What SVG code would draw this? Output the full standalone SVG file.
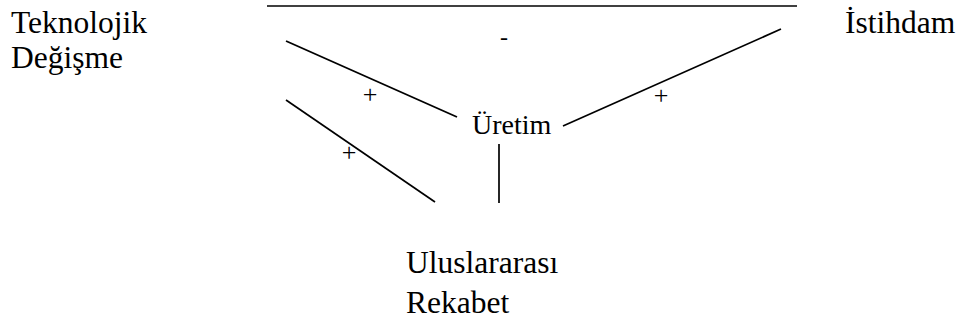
<svg xmlns="http://www.w3.org/2000/svg" width="960" height="322" viewBox="0 0 960 322">
  <style>
    text { font-family: "Liberation Serif", "Times New Roman", serif; fill: #000; }
    .lbl { font-size: 31.5px; }
    .mid { font-size: 28px; }
    .sign { font-size: 26px; text-anchor: middle; }
    .dash { font-size: 24px; text-anchor: middle; }
    .link { stroke: #000; stroke-width: 1.7; fill: none; }
  </style>
  <rect width="960" height="322" fill="#fff"/>

  <!-- connectors between the factors, with their signs -->
  <g id="connectors">
    <line class="link" x1="267" y1="6" x2="797" y2="6"/>
    <line class="link" x1="286" y1="41" x2="457" y2="117"/>
    <line class="link" x1="286" y1="100" x2="435" y2="202"/>
    <line class="link" x1="499" y1="144" x2="499" y2="203"/>
    <line class="link" x1="563" y1="126" x2="781" y2="29"/>
    <text class="dash" x="504" y="45">-</text>
    <text class="sign" x="370" y="103">+</text>
    <text class="sign" x="349" y="161">+</text>
    <text class="sign" x="661" y="104">+</text>
  </g>

  <g id="teknolojik-degisme">
    <text class="lbl" x="11" y="33">Teknolojik</text>
    <text class="lbl" x="11" y="68">Değişme</text>
  </g>

  <g id="istihdam">
    <text class="lbl" x="845" y="33">İstihdam</text>
  </g>

  <g id="uretim">
    <text class="mid" x="472" y="134">Üretim</text>
  </g>

  <g id="uluslararasi-rekabet">
    <text class="lbl" x="406" y="273">Uluslararası</text>
    <text class="lbl" x="406" y="313">Rekabet</text>
  </g>
</svg>
